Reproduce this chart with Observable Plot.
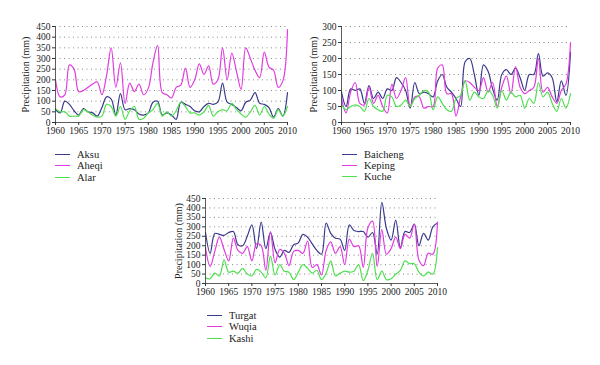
<!DOCTYPE html>
<html>
<head>
<meta charset="utf-8">
<script src="https://cdn.jsdelivr.net/npm/d3@7"></script>
<script src="https://cdn.jsdelivr.net/npm/@observablehq/plot@0.6"></script>
<style>
  html, body { margin: 0; padding: 0; background: #fff; }
  body { width: 600px; height: 365px; position: relative; overflow: hidden; font-family: "Liberation Serif", "DejaVu Serif", serif; }
  .panel { position: absolute; }
  .legend { position: absolute; font-size: 10.5px; color: #222; }
  .legend .row { position: absolute; white-space: nowrap; display: flex; align-items: center; height: 12px; }
  .legend .sw { display: inline-block; width: 15px; height: 0; border-top: 1.5px solid; margin-right: 7px; }
</style>
</head>
<body>
<div id="root"></div>
<script>
const years = [1960,1961,1962,1963,1964,1965,1966,1967,1968,1969,1970,1971,1972,1973,1974,1975,1976,1977,1978,1979,1980,1981,1982,1983,1984,1985,1986,1987,1988,1989,1990,1991,1992,1993,1994,1995,1996,1997,1998,1999,2000,2001,2002,2003,2004,2005,2006,2007,2008,2009,2010];
const xTicks = [1960,1965,1970,1975,1980,1985,1990,1995,2000,2005,2010];
const yLabel = "Precipitation (mm)";

// Panel 1
const aksu  = [60,45,100,85,55,35,65,50,45,30,70,120,110,35,135,60,65,60,40,35,45,95,100,35,45,35,15,95,85,75,55,50,75,90,85,95,185,95,85,70,55,95,105,140,90,85,70,25,65,30,140];
const aheqi = [200,120,130,270,250,145,150,165,180,190,130,220,350,165,280,90,185,145,180,130,160,280,360,140,130,115,165,175,255,165,200,275,225,265,180,200,350,200,325,240,155,350,300,245,210,330,260,245,165,195,435];
const alar  = [65,50,50,30,30,30,60,50,35,25,30,85,75,30,75,15,55,75,15,20,45,60,90,30,50,30,55,95,75,45,45,35,50,80,30,50,60,55,90,60,40,25,50,80,35,75,40,20,60,30,75];
const yTicks1 = [0,50,100,150,200,250,300,350,400,450];

// Panel 2
const baicheng = [95,50,105,100,105,60,115,75,95,75,105,100,140,125,100,45,125,90,95,90,80,130,150,110,95,75,50,190,200,150,85,180,160,105,70,150,165,150,170,140,100,150,150,215,145,155,140,65,130,85,220];
const keping   = [75,30,95,125,60,55,110,60,85,50,30,120,75,100,140,50,80,80,45,50,50,170,180,90,90,20,80,130,125,110,100,140,95,125,50,110,145,90,175,110,90,100,110,200,95,110,80,60,100,120,250];
const kuche    = [55,40,50,55,50,35,75,50,40,35,85,80,50,55,70,50,75,85,100,95,40,80,60,40,35,75,85,130,70,95,80,75,100,85,45,100,70,95,80,85,45,75,60,125,80,95,60,35,75,45,90];
const yTicks2 = [0,50,100,150,200,250,300];

// Panel 3
const turgat = [270,160,265,260,255,270,275,205,200,250,310,185,325,185,270,180,140,175,165,205,215,260,245,210,175,155,320,265,240,235,175,310,280,275,275,245,270,155,430,290,230,335,190,275,270,315,200,265,230,300,320];
const wuqia  = [190,90,170,245,180,120,240,175,160,195,120,210,200,70,275,110,180,160,95,170,175,160,225,85,100,45,175,220,160,195,100,235,195,200,85,295,330,90,285,155,185,245,185,260,240,315,125,95,160,155,325];
const kashi  = [30,25,55,40,125,60,65,55,80,50,40,75,60,30,145,45,100,65,60,20,60,100,80,55,70,20,55,120,40,55,65,60,65,100,15,70,160,20,65,20,25,50,70,120,105,105,60,40,60,50,190];
const yTicks3 = [0,50,100,150,200,250,300,350,400,450];

const NAVY = "#3a3a8c", MAG = "#e03ce0", GRN = "#4fe04f";

function panel({left, top, width, height, mL, mR, mT, mB, yMax, yTicks, labelX, series}) {
  const rows = s => years.map((y, i) => ({year: y, v: s.values[i]}));
  const svg = Plot.plot({
    width, height,
    marginLeft: mL, marginRight: mR, marginTop: mT, marginBottom: mB,
    style: {fontFamily: '"Liberation Serif", serif', fontSize: "9.5px", color: "#222", background: "transparent"},
    x: {domain: [1960, 2010], label: null},
    y: {domain: [0, yMax], label: null},
    marks: [
      Plot.gridY(yTicks.filter(t => t > 0), {stroke: "#888", strokeOpacity: 1, strokeDasharray: "1,3.5"}),
      ...series.map(s => Plot.line(rows(s), {x: "year", y: "v", stroke: s.color, strokeWidth: 1.2, curve: "catmull-rom"})),
      Plot.ruleY([0], {stroke: "#333", strokeWidth: 0.8}),
      Plot.ruleX([1960], {stroke: "#333", strokeWidth: 0.8}),
      Plot.axisX({ticks: xTicks, tickFormat: d => String(d), tickSize: 3, tickPadding: 2, stroke: "#333", label: null}),
      Plot.axisY({ticks: yTicks, tickSize: 3, tickPadding: 2, stroke: "#333", label: null}),
      Plot.text([yLabel], {frameAnchor: "left", dx: labelX - mL, rotate: -90, textAnchor: "middle", lineAnchor: "middle", fontSize: 10, fill: "#222"})
    ]
  });
  svg.classList.add("panel");
  svg.style.left = left + "px";
  svg.style.top = top + "px";
  document.getElementById("root").appendChild(svg);
}

function legend({left, top, gap, series}) {
  const lg = document.createElement("div");
  lg.className = "legend";
  lg.style.left = left + "px";
  lg.style.top = top + "px";
  series.forEach((s, i) => {
    const r = document.createElement("div");
    r.className = "row";
    r.style.top = (i * gap) + "px";
    r.innerHTML = `<span class="sw" style="border-color:${s.color}"></span><span>${s.name}</span>`;
    lg.appendChild(r);
  });
  document.getElementById("root").appendChild(lg);
}

const s1 = [{name: "Aksu", values: aksu, color: NAVY}, {name: "Aheqi", values: aheqi, color: MAG}, {name: "Alar", values: alar, color: GRN}];
const s2 = [{name: "Baicheng", values: baicheng, color: NAVY}, {name: "Keping", values: keping, color: MAG}, {name: "Kuche", values: kuche, color: GRN}];
const s3 = [{name: "Turgat", values: turgat, color: NAVY}, {name: "Wuqia", values: wuqia, color: MAG}, {name: "Kashi", values: kashi, color: GRN}];

panel({left: 0, top: 0, width: 300, height: 140, mL: 55, mR: 13, mT: 26, mB: 18, yMax: 450, yTicks: yTicks1, labelX: 25, series: s1});
panel({left: 300, top: 0, width: 300, height: 140, mL: 41, mR: 30, mT: 26, mB: 18, yMax: 300, yTicks: yTicks2, labelX: 13, series: s2});
panel({left: 150, top: 180, width: 300, height: 120, mL: 55, mR: 13, mT: 18, mB: 17, yMax: 450, yTicks: yTicks3, labelX: 28, series: s3});

legend({left: 55, top: 148, gap: 11.5, series: s1});
legend({left: 342, top: 148, gap: 11.2, series: s2});
legend({left: 207, top: 309, gap: 11.5, series: s3});
</script>
</body>
</html>
